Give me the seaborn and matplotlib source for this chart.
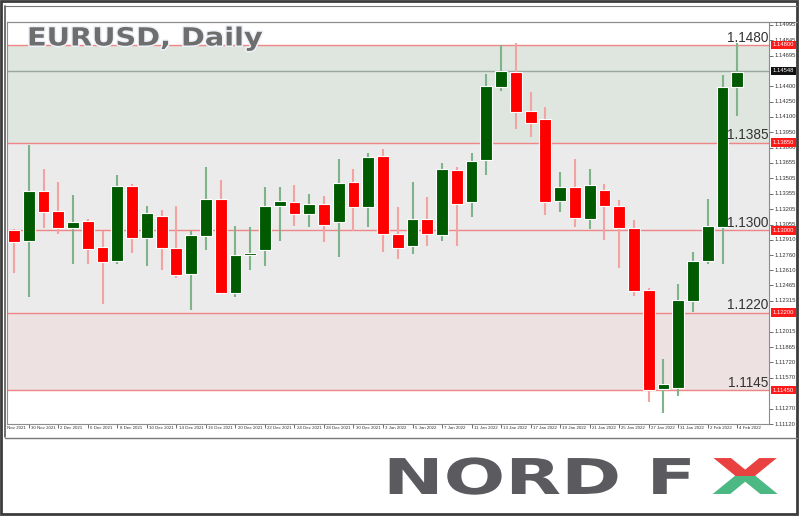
import matplotlib
matplotlib.use("Agg")
import matplotlib.pyplot as plt
import matplotlib.patheffects as pe
import matplotlib.transforms as mtransforms
from matplotlib.lines import Line2D
from matplotlib.patches import Rectangle
import seaborn as sns
import pandas as pd

# EURUSD daily candles, 29 Nov 2021 - 4 Feb 2022
opens = [1.1300, 1.1290, 1.1338, 1.1319, 1.1302, 1.1309, 1.1284, 1.1270, 1.1343, 1.1293,
         1.1314, 1.1283, 1.1258, 1.1294, 1.1330, 1.1239, 1.1276, 1.1281, 1.1324, 1.1327,
         1.1316, 1.1326, 1.1308, 1.1347, 1.1323, 1.1372, 1.1296, 1.1285, 1.1311, 1.1295,
         1.1359, 1.1327, 1.1368, 1.1439, 1.1454, 1.1416, 1.1408, 1.1328, 1.1342, 1.1311,
         1.1339, 1.1324, 1.1302, 1.1242, 1.1146, 1.1147, 1.1231, 1.1270, 1.1303, 1.1439]
highs = [1.1301, 1.1383, 1.1360, 1.1347, 1.1334, 1.1311, 1.1299, 1.1354, 1.1345, 1.1324,
         1.1320, 1.1324, 1.1299, 1.1361, 1.1349, 1.1304, 1.1303, 1.1342, 1.1342, 1.1344,
         1.1335, 1.1333, 1.1369, 1.1360, 1.1375, 1.1379, 1.1323, 1.1347, 1.1332, 1.1365,
         1.1361, 1.1375, 1.1452, 1.1480, 1.1482, 1.1434, 1.1420, 1.1357, 1.1369, 1.1360,
         1.1345, 1.1329, 1.1310, 1.1244, 1.1175, 1.1248, 1.1279, 1.1330, 1.1451, 1.1482]
lows = [1.1259, 1.1235, 1.1302, 1.1296, 1.1267, 1.1267, 1.1228, 1.1267, 1.1278, 1.1265,
        1.1261, 1.1254, 1.1223, 1.1281, 1.1238, 1.1235, 1.1261, 1.1265, 1.1290, 1.1304,
        1.1303, 1.1289, 1.1274, 1.1299, 1.1303, 1.1279, 1.1272, 1.1277, 1.1285, 1.1290,
        1.1285, 1.1313, 1.1354, 1.1435, 1.1398, 1.1391, 1.1315, 1.1318, 1.1303, 1.1301,
        1.1291, 1.1263, 1.1236, 1.1133, 1.1123, 1.1139, 1.1221, 1.1267, 1.1267, 1.1411]
closes = [1.1289, 1.1338, 1.1318, 1.1302, 1.1308, 1.1282, 1.1269, 1.1343, 1.1293, 1.1317,
          1.1283, 1.1257, 1.1295, 1.1330, 1.1239, 1.1276, 1.1278, 1.1324, 1.1328, 1.1316,
          1.1326, 1.1305, 1.1346, 1.1323, 1.1371, 1.1296, 1.1283, 1.1311, 1.1296, 1.1360,
          1.1326, 1.1367, 1.1440, 1.1455, 1.1415, 1.1404, 1.1327, 1.1342, 1.1312, 1.1344,
          1.1324, 1.1302, 1.1241, 1.1145, 1.1151, 1.1232, 1.1270, 1.1304, 1.1439, 1.1454]

# date labels, every second bar, first one belongs to the bar before the chart
date_labels = ["26 Nov 2021", "30 Nov 2021", "2 Dec 2021", "6 Dec 2021", "8 Dec 2021",
               "10 Dec 2021", "14 Dec 2021", "16 Dec 2021", "20 Dec 2021", "22 Dec 2021",
               "24 Dec 2021", "28 Dec 2021", "30 Dec 2021", "3 Jan 2022", "5 Jan 2022",
               "7 Jan 2022", "11 Jan 2022", "13 Jan 2022", "17 Jan 2022", "19 Jan 2022",
               "21 Jan 2022", "25 Jan 2022", "27 Jan 2022", "31 Jan 2022", "2 Feb 2022",
               "4 Feb 2022"]

# price scale labels on the right
price_ticks = [1.14995, 1.14845, 1.14695, 1.14400, 1.14250, 1.14100, 1.13950, 1.13800,
               1.13655, 1.13505, 1.13355, 1.13205, 1.13055, 1.12910, 1.12760, 1.12610,
               1.12465, 1.12315, 1.12015, 1.11865, 1.11720, 1.11570, 1.11270, 1.11120]

# key levels
levels = [1.1480, 1.1385, 1.1300, 1.1220, 1.1145]
level_labels = ["1.1480", "1.1385", "1.1300", "1.1220", "1.1145"]
level_tags = ["1.14800", "1.13850", "1.13000", "1.12200", "1.11450"]
last_price = 1.14548


class Stretch(pe.AbstractPathEffect):
    """Widen text horizontally around x0 (display px), optional outline."""

    def __init__(self, sx, x0, stroke=None, stroke_w=0.0):
        super().__init__()
        self.sx, self.x0 = sx, x0
        self.stroke, self.stroke_w = stroke, stroke_w

    def draw_path(self, renderer, gc, tpath, affine, rgbFace=None):
        aff = affine + mtransforms.Affine2D().translate(-self.x0, 0).scale(self.sx, 1).translate(self.x0, 0)
        if self.stroke is not None:
            gc0 = renderer.new_gc()
            gc0.copy_properties(gc)
            gc0.set_foreground(self.stroke)
            gc0.set_linewidth(self.stroke_w)
            renderer.draw_path(gc0, tpath, aff, rgbFace)
            gc0.restore()
        renderer.draw_path(gc, tpath, aff, rgbFace)


df = pd.DataFrame({"open": opens, "high": highs, "low": lows, "close": closes})
df["x"] = range(len(df))
df["bull"] = df["close"] >= df["open"]
df["bottom"] = df[["open", "close"]].min(axis=1)
df["height"] = (df["close"] - df["open"]).abs().clip(lower=0.00004)

sns.set_theme(style="white")
plt.rcParams["font.family"] = ["Liberation Sans", "DejaVu Sans"]

W, H = 800, 516
fig = plt.figure(figsize=(8, 5.16), dpi=100)
fig.patch.set_facecolor("white")


def fx(px):
    return px / W


def fy(py):
    return 1 - py / H


ax = fig.add_axes([fx(7), fy(424), fx(769) - fx(7), fy(22) - fy(424)])
ax.set_facecolor("white")
ax.set_xlim(-0.474, 51.15)
ax.set_ylim(1.11138, 1.15022)

# zones
ax.axhspan(levels[1], levels[0], color="#dee6df", lw=0, zorder=0)
ax.axhspan(levels[3], levels[1], color="#ebebeb", lw=0, zorder=0)
ax.axhspan(levels[4], levels[3], color="#ede1e1", lw=0, zorder=0)
for lv in levels:
    ax.axhline(lv, color="#f08585", lw=1.0, zorder=1)
ax.axhline(last_price, color="#98a69c", lw=1.0, zorder=1)

# candles
green, red = "#005a00", "#ff0000"
wick_cols = ["#7fb38a" if b else "#f4a3a3" for b in df["bull"]]
body_cols = [green if b else red for b in df["bull"]]
ax.vlines(df["x"], df["low"], df["high"], colors=wick_cols, lw=1.5, zorder=2)
ax.bar(df["x"], df["height"], bottom=df["bottom"], width=0.8, color=body_cols,
       edgecolor="white", linewidth=0.8, zorder=3)

# level captions
ytrans = mtransforms.blended_transform_factory(ax.transAxes, ax.transData)
for lv, lab in zip(levels, level_labels):
    ax.text(0.999, lv + 0.00003, lab, transform=ytrans, ha="right", va="bottom",
            fontsize=9.8, color="#333333", zorder=6)

for s in ax.spines.values():
    s.set_color("#8c8c8c")
    s.set_linewidth(0.8)

# x ticks and date labels
tick_pos = [-1 + 2 * k for k in range(len(date_labels))]
ax.set_xticks([p for p in tick_pos if p >= 0])
ax.set_xticklabels([])
ax.tick_params(axis="x", length=3, width=0.6, color="#555555", direction="out", bottom=True)
ax.yaxis.tick_right()
ax.set_yticks(price_ticks)
ax.set_yticklabels([])
ax.tick_params(axis="y", length=3, width=0.6, color="#555555", direction="out", right=True)
xtrans = mtransforms.blended_transform_factory(ax.transData, ax.transAxes)
clip = mtransforms.TransformedBbox(mtransforms.Bbox([[fx(7), 0], [1, 1]]), fig.transFigure)
for p, lab in zip(tick_pos, date_labels):
    t = ax.text(p + 0.15, -0.006, lab, transform=xtrans, ha="left", va="top",
                fontsize=3.2, color="#333333", clip_on=False)
    if p < 0:
        t.set_clip_box(clip)
        t.set_clip_on(True)

# price scale
ptrans = mtransforms.blended_transform_factory(fig.transFigure, ax.transData)
for v in price_ticks:
    fig.text(fx(775), v, f"{v:.5f}", fontsize=4.2, color="#333333", va="center", ha="left",
             transform=ptrans)
for v, lab in zip(levels, level_tags):
    fig.text(fx(773), v, lab, fontsize=4.2, color="white", va="center", ha="left",
             transform=ptrans, bbox=dict(boxstyle="square,pad=0.3", fc="#ff1a1a", ec="none"))
fig.text(fx(773), last_price, f"{last_price:.5f}", fontsize=4.2, color="white", va="center",
         ha="left", transform=ptrans,
         bbox=dict(boxstyle="square,pad=0.3", fc="#111111", ec="none"))

# title
fig.text(fx(27), fy(45.5), "EURUSD, Daily", fontsize=18, fontweight="bold", color="#6e6e6e",
         family="DejaVu Sans", va="baseline", ha="left",
         path_effects=[Stretch(1.15, 27, stroke="#eef2f8", stroke_w=2.2)])

# window frame
frame_c = "#3c3c3c"
fig.add_artist(Rectangle((fx(1), fy(514)), fx(797) - fx(1), fy(1) - fy(514), transform=fig.transFigure,
                         fill=False, ec=frame_c, lw=2.0))
fig.add_artist(Line2D([fx(5), fx(5)], [fy(437), fy(6)], color="#555555", lw=1.2))
fig.add_artist(Line2D([fx(5), fx(797)], [fy(6), fy(6)], color="#777777", lw=0.8))
fig.add_artist(Line2D([fx(5), fx(797)], [fy(437.5), fy(437.5)], color="#777777", lw=1.0))
fig.add_artist(Line2D([fx(7), fx(797)], [fy(22), fy(22)], color="#8c8c8c", lw=0.8))

# logo
logo_grey = "#5b5a5f"
fig.text(fx(383), fy(494), "NORD F", fontsize=35.5, fontweight="bold", family="DejaVu Sans",
         color=logo_grey, va="baseline", ha="left", path_effects=[Stretch(1.47, 383)])
mid = fy(476)
for col, y0, y1 in [("#e8413f", mid, 1.0), ("#4cb884", 0.0, mid)]:
    t = fig.text(fx(711), fy(494), "X", fontsize=35.5, fontweight="bold", family="DejaVu Sans",
                 color=col, va="baseline", ha="left", path_effects=[Stretch(1.8, 711)])
    t.set_clip_path(Rectangle((0, y0), 1, y1 - y0, transform=fig.transFigure))

fig.savefig("out.png", dpi=100, facecolor="white")
